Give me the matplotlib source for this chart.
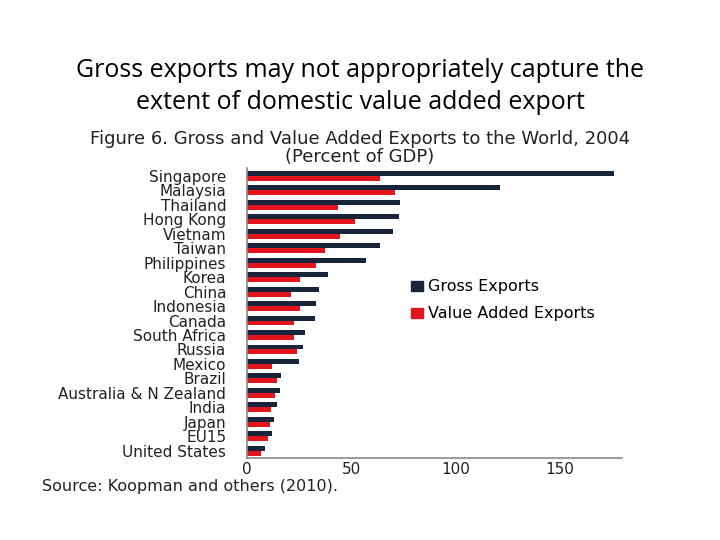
import numpy as np
import matplotlib.pyplot as plt
from matplotlib.patches import Patch

# Dados (percentual do PIB)
countries = ["Singapore", "Malaysia", "Thailand", "Hong Kong", "Vietnam", "Taiwan",
             "Philippines", "Korea", "China", "Indonesia", "Canada", "South Africa",
             "Russia", "Mexico", "Brazil", "Australia & N Zealand", "India", "Japan",
             "EU15", "United States"]
gross = [176, 121.5, 73.5, 73, 70, 64, 57, 38.8, 34.4, 33, 32.5, 27.8,
         26.8, 24.9, 16.3, 15.8, 14.4, 12.9, 12, 8.6]
value_added = [64, 71, 43.5, 52, 44.5, 37.3, 33, 25.4, 21, 25.4, 22.5, 22.5,
               24, 12, 14.4, 13.4, 11.5, 11, 10, 6.7]
xticks = [0, 50, 100, 150]

navy = "#17243a"
red = "#e3141c"
gray = "#8a8a8a"
txt = "#222222"

plt.rcParams["font.family"] = "DejaVu Sans"

fig = plt.figure(figsize=(7.2, 5.4), dpi=100)

fig.text(0.5, 0.84, "Gross exports may not appropriately capture the\nextent of domestic value added export",
         ha="center", va="center", fontsize=18, family="Open Sans", linespacing=1.35)

fig.text(0.5, 0.743, "Figure 6. Gross and Value Added Exports to the World, 2004",
         ha="center", va="center", fontsize=13, color=txt)
fig.text(0.5, 0.709, "(Percent of GDP)", ha="center", va="center", fontsize=13, color=txt)

ax = fig.add_axes([0.343, 0.152, 0.521, 0.537])

y = np.arange(len(countries))
h = 0.34
ax.barh(y - h / 2, gross, height=h, color=navy, label="Gross Exports")
ax.barh(y + h / 2, value_added, height=h, color=red, label="Value Added Exports")

ax.set_xlim(0, 180)
ax.set_ylim(19.5, -0.55)
ax.set_yticks(y)
ax.set_yticklabels(countries, fontsize=11, color=txt)
ax.set_xticks(xticks)
ax.set_xticklabels([str(t) for t in xticks], fontsize=11, color=txt)
ax.tick_params(length=0, pad=3)
ax.tick_params(axis="y", pad=15)

for s in ["top", "right"]:
    ax.spines[s].set_visible(False)
for s in ["left", "bottom"]:
    ax.spines[s].set_color(gray)
    ax.spines[s].set_linewidth(1.2)

handles = [Patch(color=navy), Patch(color=red)]
ax.legend(handles, ["Gross Exports", "Value Added Exports"], loc="upper left",
          bbox_to_anchor=(0.40, 0.665), frameon=False, fontsize=11.5,
          handlelength=0.7, handleheight=0.55, handletextpad=0.35, labelspacing=0.75)

fig.text(0.058, 0.099, "Source: Koopman and others (2010).", ha="left", va="center",
         fontsize=11.5, color=txt)

fig.savefig("out.png", dpi=100)
